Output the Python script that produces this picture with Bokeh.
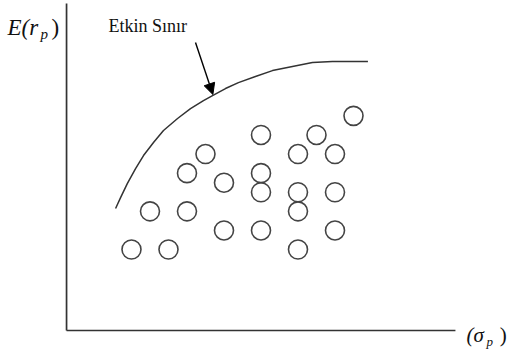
from bokeh.plotting import figure
from bokeh.models import Range1d, Label, Arrow, NormalHead
from bokeh.embed import file_html
from bokeh.resources import INLINE

# Portfolios (risk sigma_p, expected return E(r_p)) in arbitrary units
sigma_p = [1, 3, 10, 6, 8, 12, 2, 4, 10, 8, 10, 12, 6, 4, 8, 5, 10, 12, 8, 11, 13]
exp_r   = [1, 1, 1, 2, 2, 2, 3, 3, 3, 4, 4, 4, 4.5, 5, 5, 6, 6, 6, 7, 7, 8]

# Efficient frontier
front_sigma = [0.14, 0.41, 0.78, 1.22, 1.65, 2.19, 2.73, 3.49, 4.19, 4.89,
               5.38, 6.08, 6.78, 7.70, 8.62, 9.70, 10.78, 11.86, 12.97, 13.78]
front_ret   = [3.15, 3.72, 4.46, 5.24, 5.92, 6.60, 7.23, 7.86, 8.38, 8.80,
               9.06, 9.43, 9.74, 10.06, 10.37, 10.58, 10.79, 10.84, 10.84, 10.84]

# Axis extents (origin and ends) in data units
axis_origin = [-2.51, -3.24]
x_axis_end = 18.51
y_axis_end = 13.88

frontier_label = "Etkin Sınır"

INK = "#333333"
TXT = "#111111"

p = figure(width=511, height=351,
           x_range=Range1d(-6.08, 21.54), y_range=Range1d(-4.34, 14.04),
           output_backend="svg", toolbar_location=None,
           min_border=0, min_border_left=0, min_border_right=0,
           min_border_top=0, min_border_bottom=0)
p.axis.visible = False
p.grid.visible = False
p.outline_line_color = None
p.background_fill_color = "white"
p.border_fill_color = "white"

# axes lines
p.segment(x0=[axis_origin[0], axis_origin[0]], y0=[axis_origin[1], axis_origin[1]],
          x1=[x_axis_end, axis_origin[0]], y1=[axis_origin[1], y_axis_end],
          line_width=1.7, line_color=INK)

# frontier curve
p.line(front_sigma, front_ret, line_width=1.5, line_color=INK, line_join="round")

# portfolios
p.scatter(sigma_p, exp_r, size=19, marker="circle", fill_color=None,
          line_color="#444444", line_width=1.6)

# arrow pointing to frontier
p.add_layout(Arrow(end=NormalHead(size=11, fill_color="black", line_color="black"),
                   x_start=4.46, y_start=11.84, x_end=5.40, y_end=9.12,
                   line_width=1.4, line_color="black"))

serif = "'Liberation Serif', 'Times New Roman', serif"
p.add_layout(Label(x=-0.24, y=12.73, text=frontier_label, text_font=serif,
                   text_font_size="18px", text_color=TXT,
                   text_baseline="alphabetic"))

# y-axis title E(r_p)
p.add_layout(Label(x=-5.70, y=12.62, text="E(r", text_font=serif,
                   text_font_style="italic", text_font_size="23px",
                   text_color=TXT, text_baseline="alphabetic"))
p.add_layout(Label(x=-3.92, y=12.31, text="p", text_font=serif,
                   text_font_style="italic", text_font_size="15px",
                   text_color=TXT, text_baseline="alphabetic"))
p.add_layout(Label(x=-3.32, y=12.62, text=")", text_font=serif,
                   text_font_size="23px",
                   text_color=TXT, text_baseline="alphabetic"))

# x-axis title (sigma_p)
p.add_layout(Label(x=19.11, y=-3.49, text="(σ", text_font=serif,
                   text_font_style="italic", text_font_size="21px",
                   text_color=TXT, text_baseline="alphabetic"))
p.add_layout(Label(x=20.19, y=-3.80, text="p", text_font=serif,
                   text_font_style="italic", text_font_size="13px",
                   text_color=TXT, text_baseline="alphabetic"))
p.add_layout(Label(x=20.90, y=-3.49, text=")", text_font=serif,
                   text_font_size="21px",
                   text_color=TXT, text_baseline="alphabetic"))

open("out.html", "w").write(file_html(p, INLINE))
